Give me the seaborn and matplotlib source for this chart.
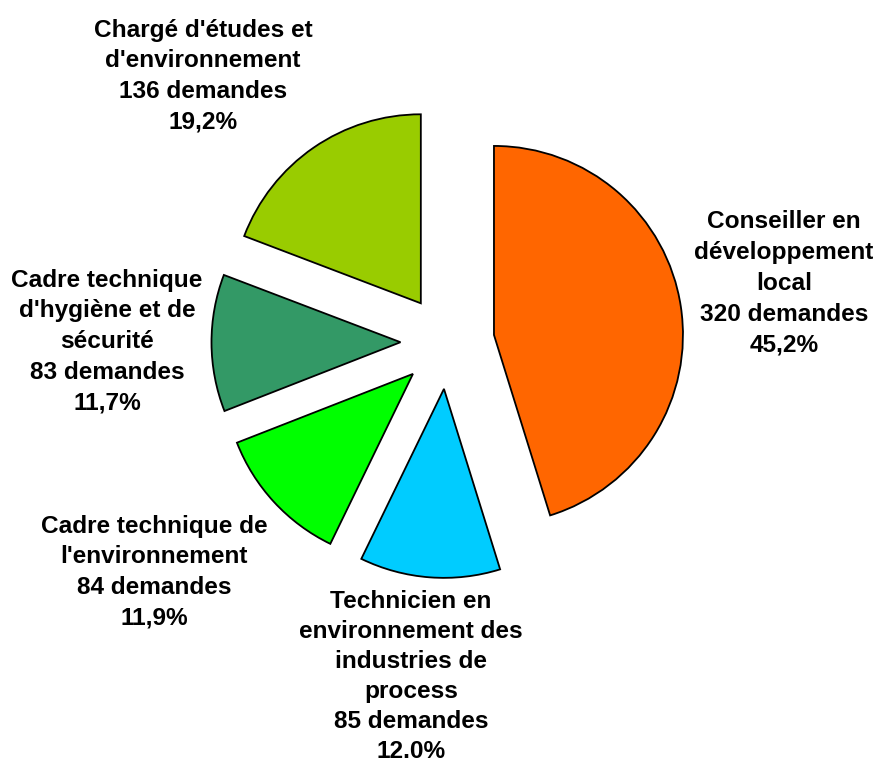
import matplotlib
matplotlib.use("Agg")
import matplotlib.pyplot as plt
import seaborn as sns

# data (clockwise from 12 o'clock)
metiers = ["Conseiller en\ndéveloppement\nlocal",
           "Technicien en\nenvironnement des\nindustries de\nprocess",
           "Cadre technique de\nl'environnement",
           "Cadre technique\nd'hygiène et de\nsécurité",
           "Chargé d'études et\nd'environnement"]
demandes = [320, 85, 84, 83, 136]
pourcents = ["45,2%", "12.0%", "11,9%", "11,7%", "19,2%"]
couleurs = ["#FF6600", "#00CCFF", "#00FF00", "#339966", "#99CC00"]

# label block positions (pixels from top-left of the image) and line step
label_pos = [(784, 222), (411, 602), (154, 526), (107, 280), (203, 30)]
line_step = [30.8, 29.8, 30.8, 30.8, 30.8]

W, H = 875, 766
sns.set_theme(style="white")
plt.rcParams['font.family'] = ['Liberation Sans', 'DejaVu Sans']

fig = plt.figure(figsize=(W / 100, H / 100), dpi=100)
ax = fig.add_axes([0, 0, 1, 1])

ax.pie(demandes, colors=couleurs, startangle=90, counterclock=False,
       explode=[47] * len(demandes), radius=189, center=(447.5, H - 342),
       wedgeprops=dict(edgecolor="black", linewidth=1.3), frame=False)

ax.set_xlim(0, W)
ax.set_ylim(0, H)
ax.set_aspect("equal")
ax.axis("off")

# labels, one line at a time so the spacing matches
for nom, n, pct, (x, y), step in zip(metiers, demandes, pourcents, label_pos, line_step):
    lignes = nom.split("\n") + ["{} demandes".format(n), pct]
    for i, ligne in enumerate(lignes):
        ax.text(x, H - (y + i * step), ligne, ha="center", va="center",
                fontsize=17.6, fontweight="bold", color="black")

fig.savefig("out.png", dpi=100, facecolor="white")
